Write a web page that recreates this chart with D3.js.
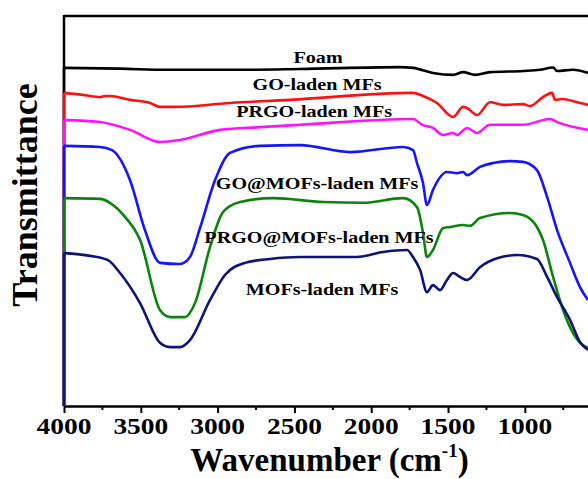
<!DOCTYPE html>
<html>
<head>
<meta charset="utf-8">
<script src="https://cdn.jsdelivr.net/npm/d3@7"></script>
<style>
  html, body { margin: 0; padding: 0; background: #fff; }
  svg { display: block; }
  text { font-family: "Liberation Serif", "Times New Roman", serif; font-weight: bold; fill: #000; }
</style>
</head>
<body>
<div id="chart"></div>
<script>
// FTIR spectra, [wavenumber (cm-1), transmittance (a.u.)]
const foam = [[4000,86.7],[3635,86.5],[3329,86.2],[2854,86.2],[2464,86.4],[1813,86.9],[1728,86.7],[1598,85.4],[1467,84.9],[1402,85.6],[1324,84.9],[1227,85.6],[1012,85.9],[901,86.2],[816,86.8],[790,85.9],[686,86.2],[589,85.4]];
const goMF = [[4000,80.3],[3863,79.7],[3766,79.2],[3733,79.5],[3701,79.5],[3570,78.5],[3440,77.7],[3375,76.7],[3277,76.7],[2919,77.7],[2529,78.5],[1728,80.3],[1663,79.5],[1572,77.7],[1467,74.1],[1402,76.7],[1376,76.4],[1311,74.6],[1227,77.9],[1142,77.2],[1012,77.4],[966,76.9],[882,79.2],[823,80.3],[803,78.5],[758,78.7],[660,77.9],[589,77.2]];
const prgoMF = [[4000,73.3],[3766,72.8],[3570,70.8],[3375,67.7],[3245,68.2],[2984,70.8],[2724,71.5],[2464,72.1],[1728,73.6],[1669,72.1],[1598,71.3],[1533,69.5],[1467,70.0],[1441,69.5],[1376,71.3],[1311,70.0],[1227,72.1],[1012,72.1],[836,73.6],[790,72.8],[589,70.8]];
const goMOF = [[4000,66.7],[3766,66.4],[3688,65.6],[3570,57.9],[3473,45.1],[3375,36.7],[3245,36.4],[3180,38.2],[3115,45.6],[3017,57.9],[2919,64.9],[2724,66.7],[2464,66.9],[2138,65.1],[1793,66.4],[1728,65.6],[1702,62.3],[1663,57.2],[1637,51.5],[1598,55.4],[1507,60.0],[1441,59.7],[1402,60.0],[1376,59.2],[1292,61.3],[1207,62.3],[1096,62.8],[1012,62.6],[921,60.5],[855,53.6],[790,45.1],[706,36.7],[641,30.5],[589,27.2]];
const prgoMOF = [[4000,53.3],[3766,53.1],[3701,52.1],[3603,48.5],[3505,42.6],[3375,24.6],[3310,22.8],[3212,22.8],[3147,26.4],[3049,40.8],[2965,49.7],[2854,52.3],[2639,53.3],[2314,52.3],[2053,52.1],[1793,53.3],[1702,51.0],[1663,44.4],[1637,38.2],[1598,40.0],[1533,45.6],[1487,45.9],[1402,46.4],[1357,46.2],[1292,48.2],[1096,49.5],[1012,49.0],[921,45.9],[882,42.6],[816,33.1],[751,24.6],[686,18.7],[641,16.2],[589,14.9]];
const mofMF = [[4000,39.2],[3831,38.5],[3714,37.4],[3635,34.1],[3505,26.4],[3375,16.2],[3310,15.1],[3245,15.1],[3180,16.9],[3049,27.2],[2952,33.6],[2822,36.7],[2659,37.7],[2464,38.2],[2092,38.2],[1923,39.5],[1767,40.0],[1728,38.2],[1682,34.9],[1637,29.2],[1598,31.0],[1552,29.7],[1507,32.3],[1467,34.1],[1422,33.1],[1376,32.3],[1292,35.6],[1181,37.9],[1051,38.7],[921,37.7],[855,33.1],[790,27.9],[706,22.1],[641,16.4],[589,14.4]];

const seriesNames = ["Foam", "GO-laden MFs", "PRGO-laden MFs", "GO@MOFs-laden MFs", "PRGO@MOFs-laden MFs", "MOFs-laden MFs"];
const seriesData = [foam, goMF, prgoMF, goMOF, prgoMOF, mofMF];
const xTicks = [4000, 3500, 3000, 2500, 2000, 1500, 1000];
const xMinorTicks = [3750, 3250, 2750, 2250, 1750, 1250, 750];

const conf = {
  width: 588, height: 479,
  ml: 64, mt: 16, mb: 406, xEnd: 617,
  colors: ["#000000", "#ff1010", "#ff10ff", "#1414ff", "#0a840a", "#0c1478"],
  // label anchors in data units (wavenumber, transmittance)
  labels: [[2346, 87.9], [2353, 81.0], [2372, 74.1], [2353, 55.6], [2340, 41.8], [2320, 28.5]]
};

const svg = d3.select("#chart").append("svg")
  .attr("width", conf.width)
  .attr("height", conf.height)
  .attr("viewBox", [0, 0, conf.width, conf.height]);

const x = d3.scaleLinear().domain([4000, 400]).range([conf.ml, conf.xEnd]);
const y = d3.scaleLinear().domain([0, 100]).range([conf.mb, conf.mt]);

// frame: top and left lines
svg.append("line")
  .attr("x1", conf.ml).attr("x2", conf.xEnd)
  .attr("y1", conf.mt).attr("y2", conf.mt)
  .attr("stroke", "#000").attr("stroke-width", 2.5);
svg.append("line")
  .attr("x1", conf.ml).attr("x2", conf.ml)
  .attr("y1", conf.mt - 1).attr("y2", conf.mb)
  .attr("stroke", "#000").attr("stroke-width", 2.5);

// bottom axis
const xAxis = svg.append("g")
  .attr("class", "xAxes")
  .attr("transform", `translate(0,${conf.mb})`)
  .call(d3.axisBottom(x).tickValues(xTicks).tickSize(7).tickSizeOuter(0).tickFormat(d3.format("d")));
xAxis.select(".domain").attr("stroke-width", 2.5).attr("stroke", "#000");
xAxis.selectAll(".tick line").attr("stroke-width", 2).attr("stroke", "#000");
xAxis.selectAll(".tick text").remove();
xAxis.selectAll(".minor")
  .data(xMinorTicks)
  .enter().append("line")
    .attr("x1", d => x(d)).attr("x2", d => x(d))
    .attr("y1", 0).attr("y2", 4)
    .attr("stroke", "#000").attr("stroke-width", 2);

svg.append("g").selectAll("text")
  .data(xTicks)
  .enter().append("text")
    .attr("transform", d => `translate(${x(d)},${conf.mb + 28}) scale(1.22,1)`)
    .attr("text-anchor", "middle")
    .attr("font-size", 22.5)
    .text(d => d);

// spectra
const line = d3.line()
  .x(d => x(d[0]))
  .y(d => y(d[1]))
  .curve(d3.curveMonotoneX);

seriesData.forEach((values, i) => {
  // vertical drop at the start of the scan
  svg.append("line")
    .attr("x1", x(values[0][0])).attr("x2", x(values[0][0]))
    .attr("y1", y(values[0][1])).attr("y2", conf.mb)
    .attr("stroke", conf.colors[i]).attr("stroke-width", 2.5);
  svg.append("path")
    .datum(values)
    .attr("fill", "none")
    .attr("stroke", conf.colors[i])
    .attr("stroke-width", 2.6)
    .attr("stroke-linejoin", "round")
    .attr("d", line);
});

// series labels
svg.append("g").selectAll("text")
  .data(seriesNames)
  .enter().append("text")
    .attr("transform", (d, i) => `translate(${x(conf.labels[i][0])},${y(conf.labels[i][1])}) scale(1.15,1)`)
    .attr("text-anchor", "middle")
    .attr("font-size", 17.5)
    .text(d => d);

// axis titles
const xt = svg.append("text")
  .attr("x", (conf.ml + 525) / 2 + 35)
  .attr("y", 471)
  .attr("text-anchor", "middle")
  .attr("font-size", 33);
xt.append("tspan").text("Wavenumber (cm");
xt.append("tspan").attr("font-size", 19).attr("dy", -14).text("-1");
xt.append("tspan").attr("dy", 14).text(")");

svg.append("text")
  .attr("transform", "translate(37,195) rotate(-90)")
  .attr("text-anchor", "middle")
  .attr("font-size", 36)
  .text("Transmittance");
</script>
</body>
</html>
